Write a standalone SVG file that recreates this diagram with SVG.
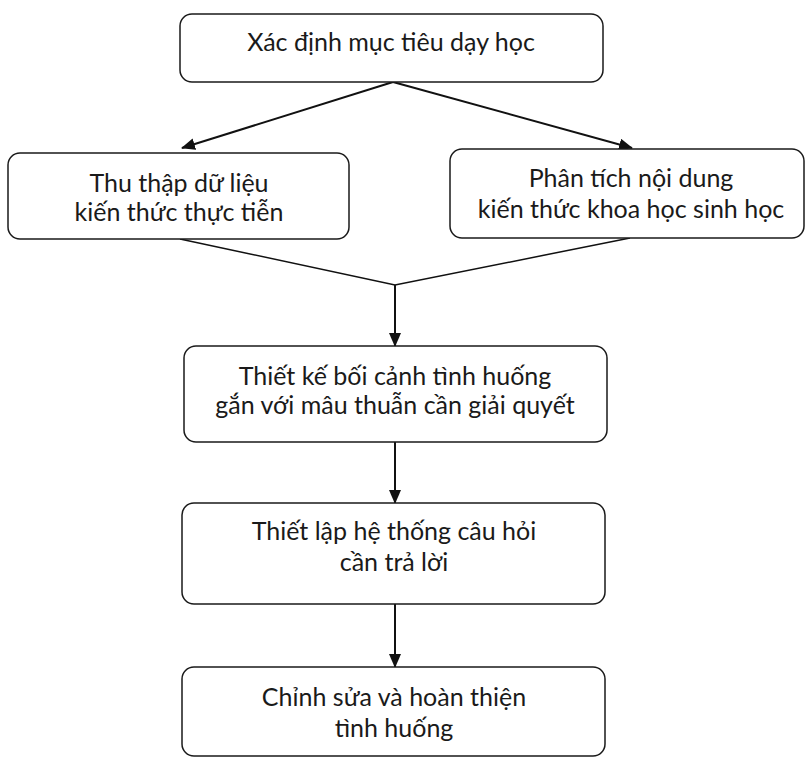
<svg xmlns="http://www.w3.org/2000/svg" width="806" height="758" viewBox="0 0 806 758">
<defs>
<style>
.box{fill:#fff;stroke:#1a1a1a;stroke-width:1.5}
.t{font-family:Lato,"Open Sans","Liberation Sans",sans-serif;font-size:25px;fill:#1a1a1a;text-anchor:middle}
.c{stroke:#111;stroke-width:2;fill:none}
.m{stroke:#111;stroke-width:1.5;fill:none}
</style>
<marker id="ah" markerWidth="14" markerHeight="12" refX="13" refY="6" orient="auto" markerUnits="userSpaceOnUse">
<path d="M0,0 L14,6 L0,12 Z" fill="#111"/>
</marker>
</defs>
<rect width="806" height="758" fill="#fff"/>
<g id="connectors">
<line class="c" x1="393" y1="82" x2="182" y2="148" marker-end="url(#ah)"/>
<line class="c" x1="393" y1="82" x2="632" y2="148" marker-end="url(#ah)"/>
<polyline class="m" points="180,239 395,285 630,238"/>
<line class="c" x1="395" y1="285" x2="395" y2="346" marker-end="url(#ah)"/>
<line class="c" x1="395" y1="442" x2="395" y2="503" marker-end="url(#ah)"/>
<line class="c" x1="395" y1="604" x2="395" y2="667" marker-end="url(#ah)"/>
</g>
<g id="n1">
<rect class="box" x="180" y="14" width="423" height="68" rx="12"/>
<text class="t" x="391" y="51">Xác định mục tiêu dạy học</text>
</g>
<g id="n2">
<rect class="box" x="8" y="153" width="341" height="86" rx="12"/>
<text class="t" x="179" y="192">Thu thập dữ liệu</text>
<text class="t" x="179" y="221">kiến thức thực tiễn</text>
</g>
<g id="n3">
<rect class="box" x="450" y="149" width="354" height="89" rx="12"/>
<text class="t" x="631" y="187">Phân tích nội dung</text>
<text class="t" x="631" y="218">kiến thức khoa học sinh học</text>
</g>
<g id="n4">
<rect class="box" x="184" y="346" width="423" height="96" rx="12"/>
<text class="t" x="395" y="385">Thiết kế bối cảnh tình huống</text>
<text class="t" x="395" y="414">gắn với mâu thuẫn cần giải quyết</text>
</g>
<g id="n5">
<rect class="box" x="182" y="503" width="423" height="101" rx="12"/>
<text class="t" x="394" y="540">Thiết lập hệ thống câu hỏi</text>
<text class="t" x="394" y="571">cần trả lời</text>
</g>
<g id="n6">
<rect class="box" x="182" y="667" width="423" height="89" rx="12"/>
<text class="t" x="394" y="706">Chỉnh sửa và hoàn thiện</text>
<text class="t" x="394" y="737">tình huống</text>
</g>
</svg>
